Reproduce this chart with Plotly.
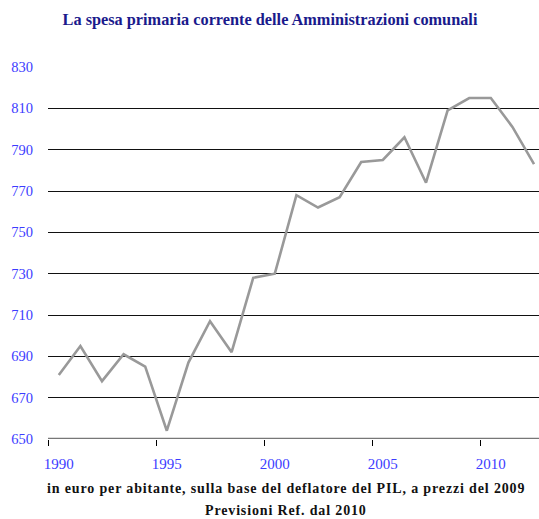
import plotly.graph_objects as go

years = list(range(1990, 2013))
spesa = [681, 695, 678, 691, 685, 654, 687, 707, 692, 728, 730, 768, 762, 767,
         784, 785, 796, 774, 809, 815, 815, 801, 783]

y_ticks = [650, 670, 690, 710, 730, 750, 770, 790, 810, 830]
x_ticks = [1990, 1995, 2000, 2005, 2010]
x_ticktext = ["1990", "1995", "2000", "2005", "2010"]

title_text = "La spesa primaria corrente delle Amministrazioni comunali"
note1 = "in euro per abitante, sulla base del deflatore del PIL, a prezzi del 2009"
note2 = "Previsioni Ref. dal 2010"

SERIF = "Liberation Serif, DejaVu Serif, serif"
BLUE = "#3c3cff"

W, H = 539, 519
L, T, B = 48, 67, 80
PW, PH = W - L, H - T - B

fig = go.Figure()
fig.add_trace(go.Scatter(
    x=years, y=spesa, mode="lines",
    line=dict(color="#999999", width=2.6),
    hoverinfo="x+y", showlegend=False, cliponaxis=False,
))

fig.update_layout(
    width=W, height=H,
    margin=dict(l=L, r=0, t=T, b=B, autoexpand=False),
    plot_bgcolor="white", paper_bgcolor="white",
    font=dict(family=SERIF, size=14, color=BLUE),
    title=dict(text="<b>" + title_text + "</b>", x=270 / W, xanchor="center",
               xref="container", y=1 - 19 / H, yanchor="middle", yref="container",
               font=dict(family=SERIF, size=16.3, color="#1a1a8c")),
    xaxis=dict(
        range=[1989.5, 2012.23], tickmode="array", tickvals=x_ticks, ticktext=x_ticktext,
        ticks="", showgrid=False, zeroline=False, automargin=False,
        showline=False, ticklabelstandoff=14,
        tickfont=dict(family=SERIF, size=15, color=BLUE),
        minor=dict(tick0=1989.5, dtick=5, ticks="outside", ticklen=6, tickcolor="#000000",
                   tickwidth=1, showgrid=False),
        fixedrange=True,
    ),
    yaxis=dict(
        range=[650, 830], tickmode="array", tickvals=y_ticks,
        showgrid=True, gridcolor="#111111", gridwidth=1, zeroline=False,
        showline=False, ticks="", ticklabelstandoff=14, automargin=False,
        tickfont=dict(family=SERIF, size=14.5, color=BLUE),
        fixedrange=True,
    ),
    annotations=[
        dict(text="<b><span style='letter-spacing:0.85px'>" + note1 + "</span></b>",
             x=(286 - L) / PW, y=(439 - 489) / PH, xref="paper",
             yref="paper", xanchor="center", yanchor="middle", showarrow=False,
             font=dict(family=SERIF, size=14, color="#111111")),
        dict(text="<b><span style='letter-spacing:0.85px'>" + note2 + "</span></b>",
             x=(286 - L) / PW, y=(439 - 510.5) / PH, xref="paper",
             yref="paper", xanchor="center", yanchor="middle", showarrow=False,
             font=dict(family=SERIF, size=14, color="#111111")),
    ],
    shapes=[dict(type="line", xref="paper", yref="y", x0=0, x1=1, y0=650, y1=650,
                 line=dict(color="#777777", width=2.5), layer="above")],
)

fig.write_html(
    "out.html",
    config={"displayModeBar": False},
    post_script="document.body.style.margin='0';document.body.style.overflow='hidden';",
)
